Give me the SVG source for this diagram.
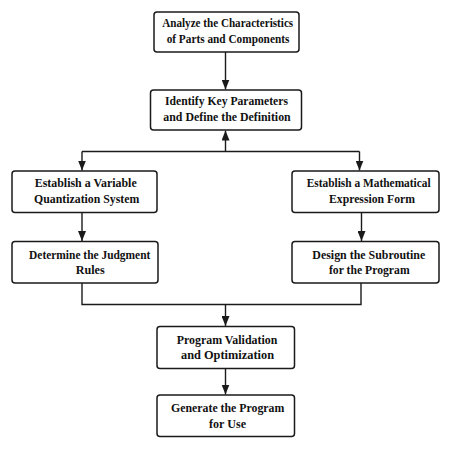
<svg xmlns="http://www.w3.org/2000/svg" width="450" height="465" viewBox="0 0 450 465">
<style>
.box{fill:#fff;stroke:#1a1a1a;stroke-width:1.5}
.t{font-family:"Liberation Serif","Times New Roman",serif;font-weight:bold;font-size:13px;fill:#111;text-anchor:middle}
.c{fill:none;stroke:#1a1a1a;stroke-width:1.4}
</style>
<defs>
<marker id="ah" markerUnits="userSpaceOnUse" markerWidth="10" markerHeight="8" refX="10" refY="4" orient="auto">
<path d="M0,0 L10,4 L0,8 z" fill="#1a1a1a"/>
</marker>
</defs>
<rect width="450" height="465" fill="#fff"/>
<g id="connectors">
<path class="c" d="M225.5,52 V89.5" marker-end="url(#ah)"/>
<path class="c" d="M225.5,151.5 V130.5" marker-end="url(#ah)"/>
<path class="c" d="M82,151.5 H359.5"/>
<path class="c" d="M82,151.5 V170.5" marker-end="url(#ah)"/>
<path class="c" d="M359.5,151.5 V170.5" marker-end="url(#ah)"/>
<path class="c" d="M82,212.5 V241" marker-end="url(#ah)"/>
<path class="c" d="M361.5,212.5 V241" marker-end="url(#ah)"/>
<path class="c" d="M82,283 V304.5 H361 V283"/>
<path class="c" d="M225.5,304.5 V326" marker-end="url(#ah)"/>
<path class="c" d="M225.5,369 V394.5" marker-end="url(#ah)"/>
</g>
<g id="n1">
<rect class="box" x="154" y="12" width="145" height="40" rx="3"/>
<text class="t" x="227.7" y="27.3" textLength="131" lengthAdjust="spacingAndGlyphs">Analyze the Characteristics</text>
<text class="t" x="228" y="42.7" textLength="122.7" lengthAdjust="spacingAndGlyphs">of Parts and Components</text>
</g>
<g id="n2">
<rect class="box" x="150.5" y="90" width="151" height="40" rx="3"/>
<text class="t" x="226.5" y="105.3" textLength="123" lengthAdjust="spacingAndGlyphs">Identify Key Parameters</text>
<text class="t" x="227" y="120.7" textLength="127.3" lengthAdjust="spacingAndGlyphs">and Define the Definition</text>
</g>
<g id="n3">
<rect class="box" x="12" y="171" width="145" height="41.5" rx="3"/>
<text class="t" x="85.7" y="187.3" textLength="102" lengthAdjust="spacingAndGlyphs">Establish a Variable</text>
<text class="t" x="86.7" y="203.3" textLength="105.3" lengthAdjust="spacingAndGlyphs">Quantization System</text>
</g>
<g id="n4">
<rect class="box" x="292" y="171" width="147" height="41.5" rx="3"/>
<text class="t" x="368.7" y="187.3" textLength="124" lengthAdjust="spacingAndGlyphs">Establish a Mathematical</text>
<text class="t" x="372" y="203.3" textLength="86" lengthAdjust="spacingAndGlyphs">Expression Form</text>
</g>
<g id="n5">
<rect class="box" x="12" y="241.5" width="146" height="41.5" rx="3"/>
<text class="t" x="89.7" y="258.7" textLength="121.3" lengthAdjust="spacingAndGlyphs">Determine the Judgment</text>
<text class="t" x="90.2" y="274" textLength="29" lengthAdjust="spacingAndGlyphs">Rules</text>
</g>
<g id="n6">
<rect class="box" x="292" y="241.5" width="147" height="41.5" rx="3"/>
<text class="t" x="368.8" y="258.7" textLength="113" lengthAdjust="spacingAndGlyphs">Design the Subroutine</text>
<text class="t" x="369.3" y="274" textLength="80.7" lengthAdjust="spacingAndGlyphs">for the Program</text>
</g>
<g id="n7">
<rect class="box" x="157" y="326.5" width="137.5" height="42" rx="3"/>
<text class="t" x="227" y="343.7" textLength="100.7" lengthAdjust="spacingAndGlyphs">Program Validation</text>
<text class="t" x="227.5" y="359.3" textLength="93" lengthAdjust="spacingAndGlyphs">and Optimization</text>
</g>
<g id="n8">
<rect class="box" x="157" y="395" width="137.5" height="41.5" rx="3"/>
<text class="t" x="227.7" y="412" textLength="113.3" lengthAdjust="spacingAndGlyphs">Generate the Program</text>
<text class="t" x="227.5" y="427.7" textLength="37" lengthAdjust="spacingAndGlyphs">for Use</text>
</g>
</svg>
